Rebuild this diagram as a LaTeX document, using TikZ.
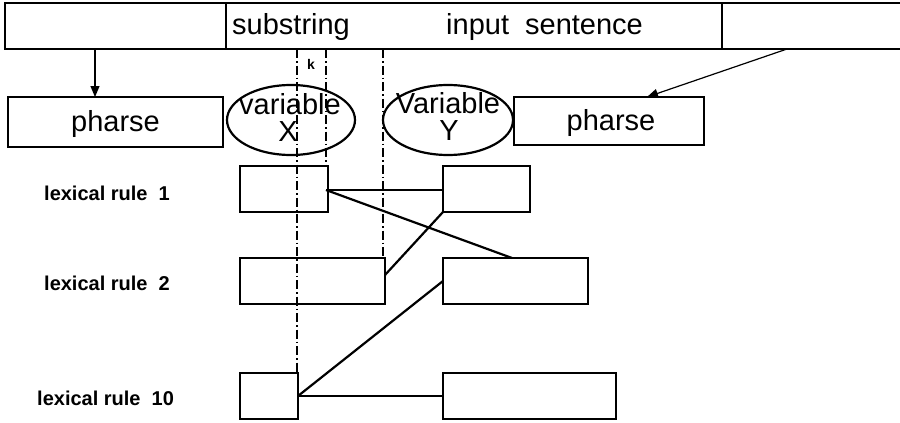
\documentclass[tikz,border=0pt]{standalone}
\usepackage{fontspec}
\setmainfont{Liberation Sans}
\usetikzlibrary{arrows.meta,calc}
\begin{document}
\begin{tikzpicture}[x=1pt,y=-1pt,
  box/.style={draw,line width=2.2pt,inner sep=0pt,outer sep=0pt,rectangle},
  big/.style={font=\fontsize{29}{31}\selectfont},
  lab/.style={font=\bfseries\fontsize{20}{22}\selectfont,anchor=west,inner sep=0pt},
  conn/.style={line width=2.2pt},
  arr/.style={line width=1.2pt,-{Triangle[length=11pt,width=9pt]}},
  dd/.style={line width=1.5pt,dash pattern=on 9pt off 3pt on 1.5pt off 3pt}]
\useasboundingbox (0,0) rectangle (900,423);
% top bar
\node[box,minimum width=221pt,minimum height=46pt] (topL) at (115.5,26) {};
\node[box,minimum width=496pt,minimum height=46pt] (topM) at (474,26) {};
\node[inner sep=0pt,outer sep=0pt,minimum width=178pt,minimum height=46pt] (topR) at (811,26) {};
\draw[line width=2.2pt] (topR.north west) -- (topR.north east);
\draw[line width=2.2pt] (topR.south west) -- (topR.south east);
\node[big,anchor=west,inner sep=0pt] (sub) at (232,27) {substring};
\node[big,anchor=west,inner sep=0pt] (inp) at (446,27) {input\ \ sentence};
% phrase boxes
\node[box,minimum width=215pt,minimum height=50pt] (phL) at (115.5,122) {};
\node[big] (phLt) at (115.5,124) {pharse};
\node[box,minimum width=190pt,minimum height=48pt] (phR) at (609,121) {};
\node[big] (phRt) at (611,123) {pharse};
% ellipses
\draw[line width=2.2pt] (291,120) ellipse [x radius=64pt,y radius=35pt];
\node[big,inner sep=0pt] (vx) at (290,104) {variable};
\node[big,inner sep=0pt] (xx) at (288,132) {X};
\draw[line width=2.2pt] (448,120) ellipse [x radius=65pt,y radius=35pt];
\node[big,inner sep=0pt] (vy) at (448,103) {Variable};
\node[big,inner sep=0pt] (yy) at (449,131) {Y};
% arrows
\coordinate (a1) at (95,0);
\coordinate (a2) at (787,0);
\coordinate (a3) at (647,0);
\draw[arr] (topL.south -| a1) -- (phL.north -| a1);
\draw[arr] (topR.south -| a2) -- (phR.north -| a3);
% lexical boxes
\node[box,minimum width=88pt,minimum height=46pt] (b1L) at (284,189) {};
\node[box,minimum width=87pt,minimum height=46pt] (b1R) at (486.5,189) {};
\node[box,minimum width=145pt,minimum height=46pt] (b2L) at (312.5,281) {};
\node[box,minimum width=145pt,minimum height=46pt] (b2R) at (515.5,281) {};
\node[box,minimum width=58pt,minimum height=46pt] (b3L) at (269,396) {};
\node[box,minimum width=173pt,minimum height=46pt] (b3R) at (529.5,396) {};
\node[lab] (l1) at (44,193) {lexical rule\ \ 1};
\node[lab] (l2) at (44,283) {lexical rule\ \ 2};
\node[lab] (l3) at (37,398) {lexical rule\ \ 10};
% dash-dot guides
\coordinate (d1) at (297,0);
\coordinate (d2) at (326,0);
\coordinate (d3) at (383,0);
\draw[dd] (topM.south -| d1) -- (b3L.north -| d1);
\draw[dd] (topM.south -| d2) -- (b1L.north -| d2);
\draw[dd] (topM.south -| d3) -- (b2L.north -| d3);
\node[font=\bfseries\fontsize{14}{16}\selectfont,inner sep=0pt] (k) at (311,64) {k};
% connectors
\coordinate (c1) at (326,190);
\coordinate (c2) at (512,0);
\draw[conn] (c1) -- (b1R.west |- c1);
\draw[conn] (c1) -- (b2R.north -| c2);
\draw[conn] (b1R.south west) -- ($(b2L.east)+(0,-6)$);
\draw[conn] (b3L.east) -- (b2R.west);
\draw[conn] (b3L.east) -- (b3R.west);
\end{tikzpicture}
\end{document}
